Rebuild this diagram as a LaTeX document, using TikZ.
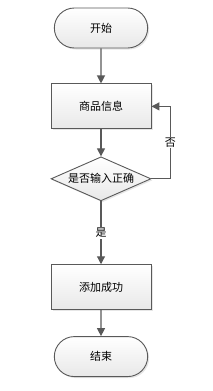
\documentclass[tikz,border=0pt]{standalone}
\usepackage{fontspec}
\newfontfamily\cjk{Noto Sans CJK SC}
\usepackage{tikz}
\usetikzlibrary{
arrows.meta,
positioning,
shapes.geometric,
shapes.misc,
shadows
}

\begin{document}
\begin{tikzpicture}[
font=\cjk\fontsize{11}{13}\selectfont,
base/.style={
draw=black!65,
line width=0.9pt,
top color=white,
bottom color=black!9,
drop shadow={opacity=0.2,shadow xshift=1.5pt,shadow yshift=-1.5pt},
align=center
},
terminal/.style={
base,
rounded rectangle,
minimum width=100pt,
minimum height=40pt
},
box/.style={
base,
rectangle,
minimum width=100pt,
minimum height=45pt
},
decision/.style={
base,
diamond,
aspect=2.27,
inner sep=0pt,
minimum width=100pt,
minimum height=44pt
},
arrow/.style={-{Triangle[width=8pt,length=8pt]},draw=black!65,line width=1.2pt},
lbl/.style={fill=white,inner sep=1pt}
]

\useasboundingbox (0,0) rectangle (212pt,-391pt);

\node[terminal] (start) at (101pt,-28pt) {开始};

\node[box,below=35pt of start] (info) {商品信息};

\node[decision,below=27pt of info] (check) {是否输入正确};

\node[box,below=63pt of check] (done) {添加成功};

\node[terminal,below=26pt of done] (stop) {结束};

\draw[arrow] (start) -- (info);
\draw[arrow] (info) -- (check);
\draw[arrow] (check) -- node[lbl] {是} (done);
\draw[arrow] (done) -- (stop);

\draw[arrow] (check.east) -- ++(19pt,0) |- node[lbl,pos=0.25] {否} (info.east);

\end{tikzpicture}
\end{document}
